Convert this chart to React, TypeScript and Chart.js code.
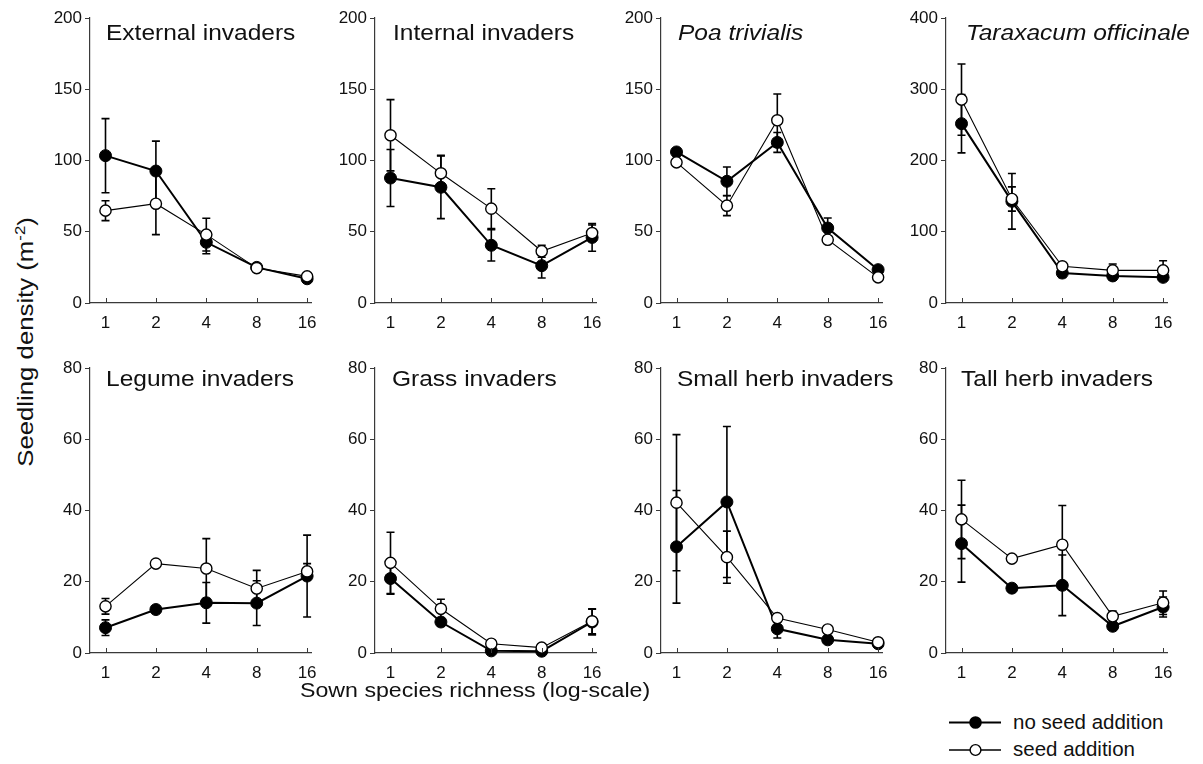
import React, { useEffect, useRef } from "react";
import { Chart, registerables } from "chart.js";

Chart.register(...registerables);

// ---------- data ----------
const richness = [1, 2, 4, 8, 16];
const xTickLabels = ["1", "2", "4", "8", "16"];

const panelTitles = [
  "External invaders",
  "Internal invaders",
  "Poa trivialis",
  "Taraxacum officinale",
  "Legume invaders",
  "Grass invaders",
  "Small herb invaders",
  "Tall herb invaders",
];
const italicTitles = [false, false, true, true, false, false, false, false];

const yMaxima = [200, 200, 200, 400, 80, 80, 80, 80];
const yStepSizes = [50, 50, 50, 100, 20, 20, 20, 20];

const seriesNames = ["no seed addition", "seed addition"];

const externalNoSeed = [103.4, 92.6, 42.6, 25, 17];
const externalNoSeedSE = [26, 21, 8, 2, 1.5];
const externalSeed = [64.8, 69.7, 48, 24.5, 18.7];
const externalSeedSE = [7, 21.7, 11.5, 1.5, 1.5];

const internalNoSeed = [87.7, 81.2, 40.5, 26.2, 46];
const internalNoSeedSE = [20, 22, 11, 8.7, 9.7];
const internalSeed = [117.7, 91, 66.2, 36.3, 49.1];
const internalSeedSE = [25, 12.6, 14, 4.2, 5.6];

const poaNoSeed = [106, 85.4, 112.7, 52.6, 23.4];
const poaNoSeedSE = [2, 10, 7, 7, 2];
const poaSeed = [98.7, 68.3, 128.2, 44.4, 18];
const poaSeedSE = [2, 7, 18.5, 2, 1.5];

const taraxacumNoSeed = [251.7, 142.7, 42, 38, 36];
const taraxacumNoSeedSE = [41, 39, 6, 6, 5];
const taraxacumSeed = [285.4, 146, 51.5, 45.8, 45.8];
const taraxacumSeedSE = [50, 17, 4, 9, 13.6];

const legumeNoSeed = [7.1, 12.2, 14.1, 14, 21.6];
const legumeNoSeedSE = [2.2, 0.5, 5.7, 6.3, 11.5];
const legumeSeed = [13.1, 25.1, 23.7, 18.1, 22.9];
const legumeSeedSE = [2.2, 0.5, 8.4, 5.1, 2.2];

const grassNoSeed = [20.9, 8.7, 0.6, 0.5, 8.7];
const grassNoSeedSE = [4.4, 1, 0.3, 0.3, 3.6];
const grassSeed = [25.3, 12.4, 2.6, 1.5, 8.9];
const grassSeedSE = [8.6, 2.7, 0.5, 0.5, 3.5];

const smallHerbNoSeed = [29.8, 42.4, 6.8, 3.7, 2.6];
const smallHerbNoSeedSE = [15.8, 21.2, 2.6, 0.8, 0.5];
const smallHerbSeed = [42.2, 26.9, 9.8, 6.6, 3.0];
const smallHerbSeedSE = [19.1, 7.3, 1, 0.8, 0.5];

const tallHerbNoSeed = [30.7, 18.2, 19, 7.5, 12.9];
const tallHerbNoSeedSE = [10.8, 0.5, 8.5, 1, 2.8];
const tallHerbSeed = [37.5, 26.5, 30.4, 10.3, 14.1];
const tallHerbSeedSE = [11, 0.5, 11, 1.5, 3.3];

const noSeedSeries = [externalNoSeed, internalNoSeed, poaNoSeed, taraxacumNoSeed, legumeNoSeed, grassNoSeed, smallHerbNoSeed, tallHerbNoSeed];
const noSeedErrors = [externalNoSeedSE, internalNoSeedSE, poaNoSeedSE, taraxacumNoSeedSE, legumeNoSeedSE, grassNoSeedSE, smallHerbNoSeedSE, tallHerbNoSeedSE];
const seedSeries = [externalSeed, internalSeed, poaSeed, taraxacumSeed, legumeSeed, grassSeed, smallHerbSeed, tallHerbSeed];
const seedErrors = [externalSeedSE, internalSeedSE, poaSeedSE, taraxacumSeedSE, legumeSeedSE, grassSeedSE, smallHerbSeedSE, tallHerbSeedSE];

// ---------- layout ----------
const FONT = "'Liberation Sans', Arial, Helvetica, sans-serif";
const AXIS_COLOR = "#3a3a3a";
const CANVAS_W = 285;
const CANVAS_H = 327;
const PAD_TOP = 12;
const PAD_RIGHT = 14;
const Y_AXIS_W = 50;
const X_AXIS_H = 30;
const TICK_SIZE = 17;
const canvasLefts = [40, 325, 611, 896];
const canvasTops = [6, 356];
const titleLefts = [106, 393, 678, 966, 106, 391.5, 676.5, 960.5];
const titleBaselines = [41, 387];
const TITLE_SIZE = 21.5;

const errorBarPlugin = {
  id: "errorBars",
  beforeDatasetsDraw(chart: any) {
    const { ctx, scales } = chart;
    const xs = scales.x;
    const ys = scales.y;
    ctx.save();
    ctx.strokeStyle = "#000";
    ctx.lineWidth = 1.6;
    chart.data.datasets.forEach((ds: any) => {
      ds.data.forEach((p: any, i: number) => {
        const e = ds.errors[i];
        const px = xs.getPixelForValue(p.x);
        const top = ys.getPixelForValue(p.y + e);
        const bot = ys.getPixelForValue(Math.max(p.y - e, 0));
        ctx.beginPath();
        ctx.moveTo(px, top);
        ctx.lineTo(px, bot);
        ctx.moveTo(px - 4, top);
        ctx.lineTo(px + 4, top);
        ctx.moveTo(px - 4, bot);
        ctx.lineTo(px + 4, bot);
        ctx.stroke();
      });
    });
    ctx.restore();
  },
};

const insideTicksPlugin = {
  id: "insideTicks",
  afterDraw(chart: any) {
    const { ctx, chartArea } = chart;
    const xs = chart.scales.x;
    ctx.save();
    ctx.strokeStyle = AXIS_COLOR;
    ctx.lineWidth = 1;
    xs.ticks.forEach((t: any) => {
      const px = Math.round(xs.getPixelForValue(t.value)) + 0.5;
      ctx.beginPath();
      ctx.moveTo(px, chartArea.bottom);
      ctx.lineTo(px, chartArea.bottom - 5);
      ctx.stroke();
    });
    ctx.restore();
  },
};

function Panel({ index }: { index: number }) {
  const ref = useRef<HTMLCanvasElement>(null);
  useEffect(() => {
    const canvas = ref.current;
    if (!canvas) return;
    const chart = new Chart(canvas, {
      type: "line",
      data: {
        datasets: [
          {
            label: seriesNames[1],
            data: richness.map((x, i) => ({ x, y: seedSeries[index][i] })),
            errors: seedErrors[index],
            borderColor: "#000",
            borderWidth: 1.1,
            pointRadius: 5.6,
            pointBackgroundColor: "#fff",
            pointBorderColor: "#000",
            pointBorderWidth: 1.4,
            clip: false,
            order: 0,
          } as any,
          {
            label: seriesNames[0],
            data: richness.map((x, i) => ({ x, y: noSeedSeries[index][i] })),
            errors: noSeedErrors[index],
            borderColor: "#000",
            borderWidth: 2,
            pointRadius: 6,
            pointBackgroundColor: "#000",
            pointBorderColor: "#000",
            pointBorderWidth: 1,
            clip: false,
            order: 1,
          } as any,
        ],
      },
      options: {
        animation: false,
        responsive: false,
        maintainAspectRatio: false,
        devicePixelRatio: 1,
        events: [],
        layout: { autoPadding: false, padding: { top: PAD_TOP, right: PAD_RIGHT, left: 0, bottom: 0 } },
        plugins: { legend: { display: false }, tooltip: { enabled: false }, title: { display: false } },
        scales: {
          x: {
            type: "logarithmic",
            min: 0.808,
            max: 16.88,
            afterBuildTicks: (s: any) => {
              s.ticks = richness.map((v) => ({ value: v }));
            },
            afterFit: (s: any) => {
              s.height = X_AXIS_H;
              s.paddingLeft = 0;
              s.paddingRight = 0;
            },
            ticks: {
              callback: (v: any) => xTickLabels[richness.indexOf(Number(v))] ?? "",
              font: { family: FONT, size: TICK_SIZE },
              color: "#111",
              padding: 10,
              autoSkip: false,
              maxRotation: 0,
              minRotation: 0,
            },
            grid: { display: false, drawTicks: false },
            border: { display: true, color: AXIS_COLOR, width: 1.2 },
          },
          y: {
            type: "linear",
            min: 0,
            max: yMaxima[index],
            afterFit: (s: any) => {
              s.width = Y_AXIS_W;
              s.paddingTop = 0;
              s.paddingBottom = 0;
            },
            ticks: {
              stepSize: yStepSizes[index],
              font: { family: FONT, size: TICK_SIZE },
              color: "#111",
              padding: 3,
            },
            grid: { display: true, drawOnChartArea: false, drawTicks: true, tickLength: 5, color: AXIS_COLOR, lineWidth: 1 },
            border: { display: true, color: AXIS_COLOR, width: 1.2 },
          },
        },
      } as any,
      plugins: [errorBarPlugin, insideTicksPlugin],
    });
    return () => chart.destroy();
  }, [index]);
  const col = index % 4;
  const row = Math.floor(index / 4);
  return (
    <canvas
      ref={ref}
      width={CANVAS_W}
      height={CANVAS_H}
      style={{ position: "absolute", left: canvasLefts[col], top: canvasTops[row], width: CANVAS_W, height: CANVAS_H }}
    />
  );
}

function Title({ index }: { index: number }) {
  const row = Math.floor(index / 4);
  return (
    <div
      style={{
        position: "absolute",
        left: titleLefts[index],
        top: titleBaselines[row] - 0.8465 * TITLE_SIZE,
        fontSize: TITLE_SIZE,
        lineHeight: 1,
        whiteSpace: "nowrap",
        fontStyle: italicTitles[index] ? "italic" : "normal",
        transform: "scaleX(1.14)",
        transformOrigin: "left top",
        color: "#111",
      }}
    >
      {panelTitles[index]}
    </div>
  );
}

export default function App() {
  return (
    <div
      style={{
        position: "absolute",
        left: 0,
        top: 0,
        width: 1203,
        height: 764,
        background: "#fff",
        fontFamily: FONT,
        color: "#111",
        overflow: "hidden",
      }}
    >
      {panelTitles.map((_, i) => (
        <Panel key={"p" + i} index={i} />
      ))}
      {panelTitles.map((_, i) => (
        <Title key={"t" + i} index={i} />
      ))}
      <div
        style={{
          position: "absolute",
          left: 26,
          top: 342,
          fontSize: 22,
          lineHeight: 1,
          whiteSpace: "nowrap",
          transform: "translate(-50%, -50%) rotate(-90deg) scaleX(1.17)",
        }}
      >
        Seedling density (m<sup style={{ fontSize: "0.65em", verticalAlign: "0.55em", lineHeight: 0 }}>-2</sup>)
      </div>
      <div
        style={{
          position: "absolute",
          left: 300,
          top: 697 - 0.8465 * 20.5,
          fontSize: 20.5,
          lineHeight: 1,
          whiteSpace: "nowrap",
          transform: "scaleX(1.13)",
          transformOrigin: "left top",
        }}
      >
        Sown species richness (log-scale)
      </div>
      <svg style={{ position: "absolute", left: 940, top: 705, width: 70, height: 60 }} width={70} height={60}>
        <line x1={9} y1={17.5} x2={61} y2={17.5} stroke="#000" strokeWidth={2} />
        <circle cx={35.5} cy={17.5} r={6.3} fill="#000" />
        <line x1={9} y1={45} x2={61} y2={45} stroke="#000" strokeWidth={1.4} />
        <circle cx={35.5} cy={45} r={5.4} fill="#fff" stroke="#000" strokeWidth={1.4} />
      </svg>
      <div style={{ position: "absolute", left: 1013, top: 729.3 - 0.8465 * 20.5, fontSize: 20.5, lineHeight: 1, whiteSpace: "nowrap" }}>
        {seriesNames[0]}
      </div>
      <div style={{ position: "absolute", left: 1013, top: 756.7 - 0.8465 * 20.5, fontSize: 20.5, lineHeight: 1, whiteSpace: "nowrap" }}>
        {seriesNames[1]}
      </div>
    </div>
  );
}
